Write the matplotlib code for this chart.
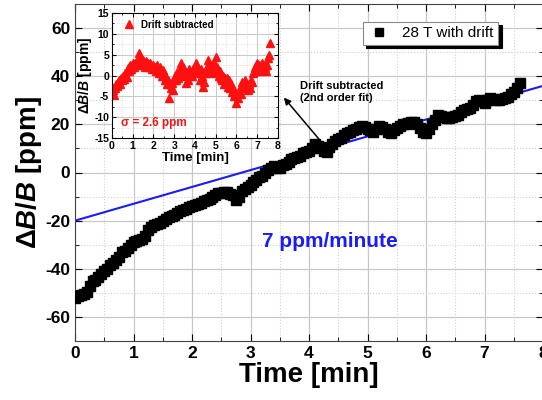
import numpy as np
import matplotlib.pyplot as plt
from matplotlib.ticker import MultipleLocator

plt.rcParams['font.family'] = ['Liberation Sans', 'DejaVu Sans']
plt.rcParams['font.weight'] = 'bold'
plt.rcParams['axes.unicode_minus'] = False
plt.rcParams['mathtext.fontset'] = 'custom'
plt.rcParams['mathtext.it'] = 'Liberation Sans:bold:italic'
plt.rcParams['mathtext.rm'] = 'Liberation Sans:bold'

# ── data ─────────────────────────────────────────────────────────────────────

# main trace: 28 T with drift, one point every 0.05 min
t_main = np.round(np.arange(0, 7.61, 0.05), 2)
b_drift = [-52, -51.5, -51, -50.5, -49.5, -47, -45, -44.5, -43.5, -42,
           -41, -40, -38.5, -37.5, -36.5, -35, -33, -32.5, -31.5, -30,
           -29, -28.5, -28, -27.5, -26.5, -24, -22.5, -22, -21.5, -21,
           -20, -19.5, -18.5, -18, -17.5, -17, -16, -15.5, -15, -14.5,
           -14, -13.5, -13, -12.5, -12, -11.5, -11, -10, -9.5, -8.5,
           -8.5, -8, -8, -9, -9.5, -11.5, -10, -7.5, -7, -6,
           -5, -4, -3, -2, -1.5, 0, 1, 2, 2.5, 2,
           2, 3, 3.5, 4.5, 5.5, 6, 6.5, 7, 8, 8.5,
           9, 10, 12, 11, 10, 9, 8.5, 10.5, 12, 13,
           14, 14.5, 15.5, 16.5, 17, 17.5, 18, 19, 19.5, 19,
           18, 17.5, 17, 18, 19.5, 19, 18, 17, 16.5, 17.5,
           18.5, 19.5, 20, 20, 20.5, 21, 21, 20, 18.5, 17,
           16.5, 18, 20, 22, 24, 23.5, 23, 22.5, 22.5, 23,
           23.5, 24, 25, 26, 26.5, 27, 28, 29.5, 30, 29.5,
           29, 30, 31, 30.5, 30, 30, 30.5, 31, 31.5, 32.5,
           33.5, 35, 37]

# linear drift guide
fit_t = [0, 8]
fit_b = [-20, 36]

# inset: drift subtracted, one point every 0.05 min
t_res = np.round(np.arange(0, 7.61, 0.05), 2)
b_res = [-2.7, -3.5, -4.7, -3.0, -2.0, -2.5, -1.5, -1.0, -2.0, -0.5, -1.0,
         0.0, -0.8, 0.5, -0.3, 1.8, 1.0, 2.5, 1.5, 2.0, 3.0,
         2.0, 3.0, 2.5, 3.5, 3.0, 5.4, 4.5, 3.0, 2.5, 3.7,
         3.0, 2.0, 3.5, 2.5, 3.0, 2.0, 3.0, 2.5, 1.5, 2.5,
         2.0, 1.0, 2.5, 1.0, 0.5, 2.0, 1.0, 0.0, 1.3, 0.5,
         -1.0, -0.3, -2.0, -1.0, -5.4, -2.0, -3.0, -1.8, -3.5, -1.0,
         0.0, -1.0, 0.8, -0.5, 0.5, 1.5, 3.0, 2.0, 0.0, 1.0,
         -1.8, 0.5, -1.0, 1.5, 0.5, 0.8, 0.0, 1.5, 1.0, 0.5,
         3.0, 2.0, 0.5, 1.0, -1.0, 1.5, 0.0, -2.7, -1.5, 0.5,
         1.3, 2.0, 3.7, 2.0, 0.5, 2.5, 1.0, 3.0, 1.5, 4.4,
         2.0, 0.5, 0.0, 1.0, -0.5, -1.0, 0.0, -2.0, -0.7, -1.5,
         -0.7, -2.7, -1.0, -3.0, -2.0, -4.0, -3.0, -5.0, -4.5, -6.6,
         -5.5, -4.2, -3.0, -4.5, -1.5, -3.0, -2.0, -1.0, -2.5, -3.0,
         -3.5, -2.0, -3.0, -1.0, -1.5, 0.5, 1.0, 2.0, 1.0, 3.0,
         1.5, 2.5, 1.0, 2.0, 3.0, 1.5, 2.0, 1.0, 2.5, 4.2,
         5.0, 7.8]

# ── figure ───────────────────────────────────────────────────────────────────

fig = plt.figure(figsize=(5.42, 4.0), dpi=100)
ax = fig.add_axes([0.1384, 0.1475, 0.8635, 0.8425])

ax.plot(fit_t, fit_b, color="#1a1aff", lw=1.5, zorder=2)
ax.plot(t_main, b_drift, ls="none", marker="s", ms=6.5, color="black",
        label="28 T with drift", zorder=3)

ax.set_xlim(0, 8)
ax.set_ylim(-70, 70)
ax.xaxis.set_major_locator(MultipleLocator(1))
ax.xaxis.set_minor_locator(MultipleLocator(0.5))
ax.yaxis.set_major_locator(MultipleLocator(20))
ax.yaxis.set_minor_locator(MultipleLocator(10))
ax.tick_params(which="both", direction="in", top=True, right=True)
ax.tick_params(which="major", length=5, labelsize=12.5)
ax.tick_params(which="minor", length=3)
ax.grid(which="major", color="#c8c8c8", lw=0.9)
ax.grid(which="minor", color="#d0d0d0", lw=0.8, ls=":")
ax.set_axisbelow(True)
for s in ax.spines.values():
    s.set_color("#444444")

ax.set_xlabel("Time [min]", fontsize=20, fontweight="bold", labelpad=1)
ax.set_ylabel(r"$\mathit{ΔB/B}$ [ppm]", fontsize=20,
              fontweight="bold", labelpad=1)

leg = ax.legend(loc="upper right", bbox_to_anchor=(0.921, 0.97),
                prop={"size": 11, "weight": "normal"},
                frameon=True, fancybox=False,
                shadow={"color": "black", "alpha": 1, "ox": 2.5, "oy": -2.5},
                handletextpad=0.8, borderpad=0.3, markerscale=0.9,
                handlelength=1.5)
leg.get_frame().set_edgecolor("#888888")
leg.get_frame().set_linewidth(0.8)

ax.text(3.2, -28.8, "7 ppm/minute", color="#1a1aff", fontsize=15,
        fontweight="bold", va="center", ha="left")

ax.annotate("", xy=(3.54, 32), xytext=(4.2, 13),
            arrowprops=dict(arrowstyle="-|>", color="black", lw=1.1,
                            mutation_scale=10))
ax.text(3.85, 38, "Drift subtracted\n(2nd order fit)", fontsize=8,
        fontweight="bold", va="top", ha="left", linespacing=1.3)

# ── inset ────────────────────────────────────────────────────────────────────

ins = fig.add_axes([0.2066, 0.655, 0.3063, 0.3125])
ins.set_facecolor("white")
ins.plot(t_res, b_res, ls="none", marker="^", ms=6, color="#ff1010",
         label="Drift subtracted")
ins.set_xlim(0, 8)
ins.set_ylim(-15, 15)
ins.xaxis.set_major_locator(MultipleLocator(1))
ins.xaxis.set_minor_locator(MultipleLocator(0.5))
ins.yaxis.set_major_locator(MultipleLocator(5))
ins.yaxis.set_minor_locator(MultipleLocator(2.5))
ins.tick_params(which="both", direction="in", top=True, right=True,
                labelsize=7.5, pad=2)
ins.tick_params(which="major", length=3)
ins.tick_params(which="minor", length=1.5)
ins.grid(which="major", color="#c8c8c8", lw=0.7)
ins.grid(which="minor", color="#d8d8d8", lw=0.6, ls=":")
ins.set_axisbelow(True)
ins.set_xlabel("Time [min]", fontsize=9.5, fontweight="bold", labelpad=1)
ins.set_ylabel(r"$\mathit{ΔB/B}$ [ppm]", fontsize=10,
               fontweight="bold", labelpad=0)
ins.legend(loc="upper left", frameon=False, handletextpad=0.3,
           borderaxespad=0.3, prop={"weight": "bold", "size": 7})
ins.text(0.45, -11.4, "σ = 2.6 ppm", color="#ff1010", fontsize=8.5,
         fontweight="bold", va="center", ha="left")

fig.savefig("out.png", dpi=100)
